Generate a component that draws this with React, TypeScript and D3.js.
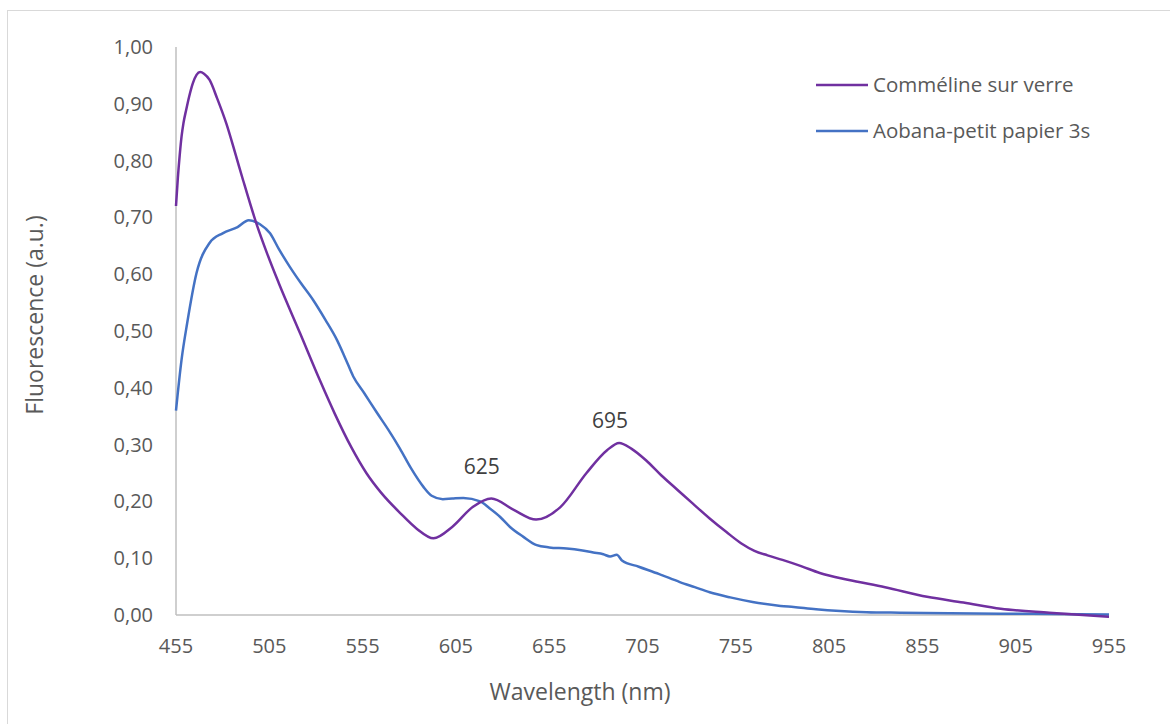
import React from "react";
import * as d3 from "d3";

const commelineWl = [455, 456, 457, 458, 459, 460.5, 462, 464, 466, 468, 470, 473, 477, 482, 487, 491, 498, 504, 510, 521.5, 532, 540, 549, 557, 565, 575, 584, 593, 603, 614, 624, 636, 648, 661, 675, 686, 692.5, 699, 707, 715, 723.5, 732, 741, 750, 758, 765, 772, 780, 790, 800, 815, 835, 857.5, 877, 897, 923, 955];
const commelineVal = [0.72, 0.77, 0.81, 0.843, 0.866, 0.89, 0.912, 0.936, 0.951, 0.956, 0.953, 0.942, 0.91, 0.865, 0.81, 0.765, 0.69, 0.635, 0.585, 0.496, 0.414, 0.355, 0.295, 0.25, 0.215, 0.18, 0.152, 0.135, 0.155, 0.19, 0.205, 0.185, 0.168, 0.19, 0.25, 0.29, 0.303, 0.293, 0.272, 0.246, 0.221, 0.196, 0.17, 0.146, 0.126, 0.113, 0.105, 0.097, 0.086, 0.074, 0.062, 0.049, 0.032, 0.022, 0.011, 0.004, -0.003];

const aobanaWl = [455, 458, 461, 466, 473, 480, 488, 494, 500, 505.4, 510, 516, 522, 528.4, 535, 541.3, 546, 550, 556, 562.7, 569, 575, 581, 587.5, 592, 598, 603, 609, 618, 623, 628.6, 634, 641, 648.3, 655, 664.4, 672, 678.6, 684, 687.6, 691.2, 694, 703, 714, 725, 733, 741, 752, 764, 779, 786, 798, 811, 825, 843, 870, 914, 955];
const aobanaVal = [0.36, 0.45, 0.514, 0.602, 0.655, 0.672, 0.683, 0.695, 0.688, 0.672, 0.645, 0.613, 0.584, 0.555, 0.52, 0.484, 0.45, 0.42, 0.39, 0.356, 0.325, 0.293, 0.258, 0.226, 0.21, 0.204, 0.205, 0.206, 0.2, 0.188, 0.173, 0.155, 0.138, 0.123, 0.119, 0.117, 0.114, 0.11, 0.107, 0.103, 0.106, 0.096, 0.085, 0.072, 0.058, 0.049, 0.04, 0.031, 0.023, 0.016, 0.014, 0.01, 0.007, 0.005, 0.004, 0.003, 0.002, 0.001];

const xTicks = [455, 505, 555, 605, 655, 705, 755, 805, 855, 905, 955];
const yTicks = [0, 0.1, 0.2, 0.3, 0.4, 0.5, 0.6, 0.7, 0.8, 0.9, 1.0];

const seriesNames = ["Comméline sur verre", "Aobana-petit papier 3s"];
const seriesColors = ["#7030A0", "#4472C4"];

const peakLabels = [
  { wl: 618.8, val: 0.261, text: "625" },
  { wl: 687.6, val: 0.342, text: "695" },
];

const FONT = "'Open Sans', 'Noto Sans', sans-serif";
const TEXT = "#595959";

export default function App() {
  const W = 1170, H = 724;
  const x = d3.scaleLinear().domain([455, 955]).range([176, 1109]);
  const y = d3.scaleLinear().domain([0, 1]).range([615, 47]);
  const line = d3
    .line<[number, number]>()
    .x((d) => x(d[0]))
    .y((d) => y(d[1]))
    .curve(d3.curveMonotoneX);

  const s1: [number, number][] = commelineWl.map((w, i) => [w, commelineVal[i]]);
  const s2: [number, number][] = aobanaWl.map((w, i) => [w, aobanaVal[i]]);
  const fmt = (v: number) => v.toFixed(2).replace(".", ",");

  return (
    <svg
      width={W}
      height={H}
      style={{ position: "absolute", left: 0, top: 0, background: "#fff" }}
      fontFamily={FONT}
    >
      <rect x={7.5} y={10.5} width={1200} height={800} fill="#fff" stroke="#d9d9d9" strokeWidth={1} />
      {/* axes */}
      <line x1={x(455)} x2={x(455)} y1={y(1)} y2={y(0)} stroke="#bfbfbf" strokeWidth={1.5} />
      <line x1={x(455)} x2={x(955)} y1={y(0)} y2={y(0)} stroke="#bfbfbf" strokeWidth={1.5} />
      {yTicks.map((t) => (
        <text key={"y" + t} x={153} y={y(t)} dy="0.35em" textAnchor="end" fontSize={20} fill={TEXT}>
          {fmt(t)}
        </text>
      ))}
      {xTicks.map((t) => (
        <text key={"x" + t} x={x(t)} y={646} dy="0.35em" textAnchor="middle" fontSize={20} fill={TEXT}>
          {t}
        </text>
      ))}
      <text x={580} y={692} dy="0.35em" textAnchor="middle" fontSize={23} fill={TEXT}>
        Wavelength (nm)
      </text>
      <text
        transform={`translate(35,315) rotate(-90)`}
        dy="0.35em"
        textAnchor="middle"
        fontSize={23}
        fill={TEXT}
      >
        Fluorescence (a.u.)
      </text>
      {/* series */}
      <path d={line(s2) || ""} fill="none" stroke={seriesColors[1]} strokeWidth={2.5} strokeLinejoin="round" />
      <path d={line(s1) || ""} fill="none" stroke={seriesColors[0]} strokeWidth={2.5} strokeLinejoin="round" />
      {peakLabels.map((p) => (
        <text key={p.text} x={x(p.wl)} y={y(p.val)} dy="0.35em" textAnchor="middle" fontSize={21} fill="#404040">
          {p.text}
        </text>
      ))}
      {/* legend */}
      {seriesNames.map((n, i) => (
        <g key={n} transform={`translate(816,${85 + i * 46})`}>
          <line x1={0} x2={52} y1={0} y2={0} stroke={seriesColors[i]} strokeWidth={2.5} />
          <text x={57} y={0} dy="0.35em" fontSize={20.5} fill={TEXT}>
            {n}
          </text>
        </g>
      ))}
    </svg>
  );
}
